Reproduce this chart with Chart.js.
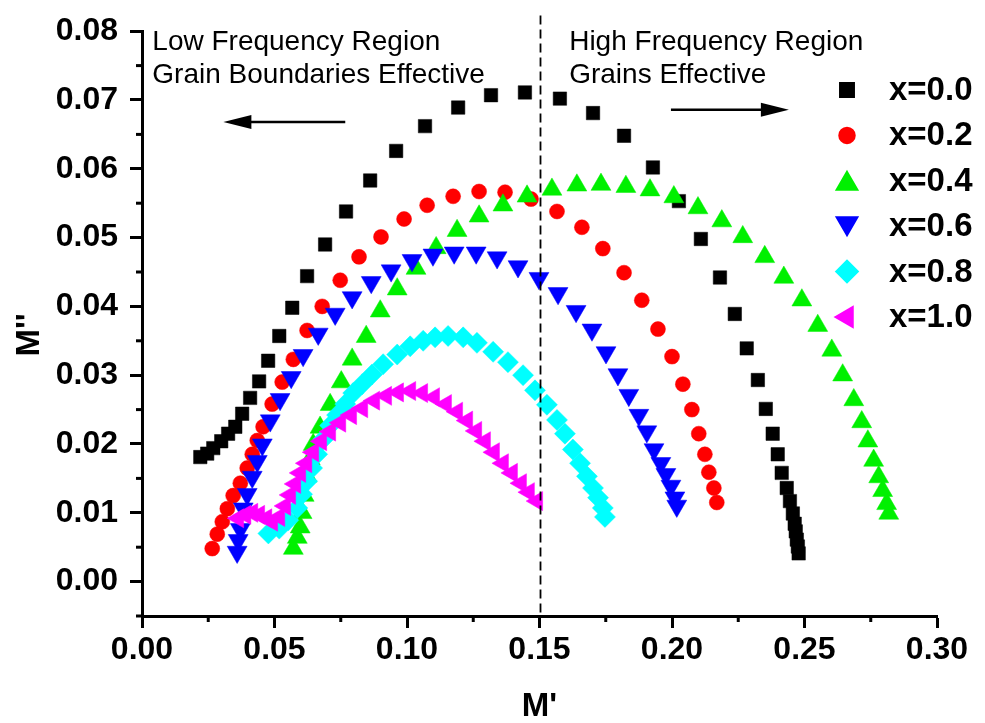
<!DOCTYPE html>
<html>
<head>
<meta charset="utf-8">
<script src="https://cdn.jsdelivr.net/npm/chart.js"></script>
<style>
  html, body { margin: 0; padding: 0; background: #fff; }
  #wrap { width: 985px; height: 723px; position: relative; }
</style>
</head>
<body>
<div id="wrap"><canvas id="chart"></canvas></div>
<script>
const FONT = '"Liberation Sans", Arial, sans-serif';

// series names
const seriesNames = ["x=0.0", "x=0.2", "x=0.4", "x=0.6", "x=0.8", "x=1.0"];

// M' / M'', one pair of arrays per series
const mRe00 = [0.0220,0.0246,0.0269,0.0299,0.0325,0.0352,0.0378,0.0408,0.0442,0.0476,0.0518,0.0567,0.0623,0.0691,0.0770,0.0861,0.0959,0.1068,0.1193,0.1317,0.1445,0.1577,0.1702,0.1819,0.1928,0.2026,0.2109,0.2181,0.2237,0.2282,0.2324,0.2354,0.2380,0.2399,0.2414,0.2433,0.2445,0.2456,0.2463,0.2467,0.2471,0.2475,0.2478];
const mIm00 = [0.0181,0.0186,0.0194,0.0204,0.0215,0.0225,0.0244,0.0267,0.0291,0.0321,0.0357,0.0398,0.0444,0.0490,0.0538,0.0583,0.0626,0.0662,0.0689,0.0707,0.0711,0.0702,0.0681,0.0648,0.0602,0.0553,0.0498,0.0442,0.0389,0.0339,0.0293,0.0251,0.0215,0.0185,0.0158,0.0136,0.0117,0.0099,0.0084,0.0073,0.0061,0.0051,0.0041];

const mRe02 = [0.0265,0.0284,0.0303,0.0322,0.0344,0.0371,0.0397,0.0416,0.0435,0.0457,0.0491,0.0529,0.0571,0.0623,0.0680,0.0748,0.0819,0.0902,0.0989,0.1076,0.1174,0.1272,0.1370,0.1468,0.1566,0.1660,0.1739,0.1819,0.1886,0.1947,0.2000,0.2041,0.2075,0.2101,0.2124,0.2139,0.2158,0.2169];
const mIm02 = [0.0048,0.0069,0.0087,0.0106,0.0125,0.0143,0.0165,0.0185,0.0205,0.0225,0.0258,0.0290,0.0323,0.0365,0.0400,0.0438,0.0472,0.0501,0.0527,0.0547,0.0560,0.0567,0.0566,0.0556,0.0538,0.0515,0.0484,0.0449,0.0409,0.0367,0.0327,0.0287,0.0250,0.0215,0.0185,0.0159,0.0136,0.0115];

const mRe04 = [0.0571,0.0586,0.0597,0.0604,0.0612,0.0623,0.0635,0.0646,0.0672,0.0710,0.0752,0.0793,0.0846,0.0899,0.0963,0.1034,0.1110,0.1189,0.1272,0.1362,0.1453,0.1547,0.1641,0.1732,0.1826,0.1917,0.2007,0.2098,0.2188,0.2267,0.2350,0.2422,0.2490,0.2550,0.2603,0.2644,0.2686,0.2716,0.2739,0.2761,0.2780,0.2795,0.2810,0.2818];
const mIm04 = [0.0048,0.0064,0.0079,0.0100,0.0125,0.0153,0.0178,0.0199,0.0224,0.0257,0.0290,0.0323,0.0356,0.0393,0.0425,0.0455,0.0485,0.0510,0.0531,0.0547,0.0560,0.0570,0.0576,0.0577,0.0574,0.0569,0.0559,0.0543,0.0524,0.0501,0.0472,0.0442,0.0409,0.0372,0.0336,0.0300,0.0264,0.0232,0.0204,0.0176,0.0152,0.0132,0.0113,0.0099];

const mRe06 = [0.0359,0.0363,0.0371,0.0382,0.0397,0.0416,0.0435,0.0454,0.0484,0.0521,0.0563,0.0608,0.0665,0.0729,0.0793,0.0865,0.0940,0.1019,0.1098,0.1178,0.1261,0.1340,0.1419,0.1498,0.1570,0.1638,0.1698,0.1751,0.1796,0.1837,0.1875,0.1905,0.1932,0.1958,0.1977,0.1996,0.2011,0.2018];
const mIm06 = [0.0043,0.0060,0.0076,0.0106,0.0127,0.0152,0.0175,0.0199,0.0234,0.0265,0.0297,0.0329,0.0360,0.0389,0.0413,0.0435,0.0452,0.0467,0.0475,0.0478,0.0478,0.0471,0.0458,0.0441,0.0419,0.0393,0.0366,0.0333,0.0301,0.0271,0.0242,0.0218,0.0192,0.0172,0.0156,0.0139,0.0122,0.0110];

const mRe08 = [0.0477,0.0518,0.0552,0.0586,0.0604,0.0623,0.0642,0.0661,0.0684,0.0710,0.0736,0.0767,0.0797,0.0831,0.0868,0.0910,0.0963,0.1012,0.1061,0.1106,0.1155,0.1212,0.1264,0.1325,0.1381,0.1438,0.1483,0.1528,0.1566,0.1596,0.1626,0.1653,0.1679,0.1702,0.1721,0.1739,0.1747];
const mIm08 = [0.0070,0.0077,0.0089,0.0107,0.0127,0.0146,0.0165,0.0185,0.0207,0.0227,0.0242,0.0258,0.0274,0.0287,0.0301,0.0316,0.0330,0.0342,0.0350,0.0355,0.0357,0.0355,0.0347,0.0334,0.0319,0.0300,0.0278,0.0257,0.0235,0.0215,0.0192,0.0172,0.0153,0.0136,0.0122,0.0107,0.0094];

const mRe10 = [0.0363,0.0390,0.0416,0.0442,0.0469,0.0491,0.0518,0.0540,0.0559,0.0578,0.0597,0.0620,0.0646,0.0676,0.0710,0.0748,0.0789,0.0831,0.0876,0.0921,0.0966,0.1012,0.1057,0.1102,0.1147,0.1189,0.1227,0.1261,0.1294,0.1328,0.1362,0.1396,0.1430,0.1460,0.1491];
const mIm10 = [0.0092,0.0097,0.0100,0.0097,0.0092,0.0087,0.0094,0.0110,0.0126,0.0142,0.0158,0.0172,0.0188,0.0204,0.0218,0.0231,0.0242,0.0252,0.0263,0.0270,0.0275,0.0277,0.0274,0.0268,0.0258,0.0247,0.0234,0.0219,0.0204,0.0188,0.0172,0.0158,0.0143,0.0130,0.0117];

// tick values and labels
const xTicks = [0, 0.05, 0.10, 0.15, 0.20, 0.25, 0.30];
const xTickLabels = ["0.00", "0.05", "0.10", "0.15", "0.20", "0.25", "0.30"];
const yTicks = [0, 0.01, 0.02, 0.03, 0.04, 0.05, 0.06, 0.07, 0.08];
const yTickLabels = ["0.00", "0.01", "0.02", "0.03", "0.04", "0.05", "0.06", "0.07", "0.08"];
const xMinor = [0.025, 0.075, 0.125, 0.175, 0.225, 0.275];
const yMinor = [-0.005, 0.005, 0.015, 0.025, 0.035, 0.045, 0.055, 0.065, 0.075];

const seriesRe = [mRe00, mRe02, mRe04, mRe06, mRe08, mRe10];
const seriesIm = [mIm00, mIm02, mIm04, mIm06, mIm08, mIm10];

// marker look per series
const markers = [
  { color: "#000000", style: "rect", rotation: 0, radius: 9.5 },
  { color: "#ff0000", style: "circle", rotation: 0, radius: 7.5 },
  { color: "#00f000", style: "triangle", rotation: 0, radius: 11.5 },
  { color: "#0000ff", style: "triangle", rotation: 180, radius: 11.5 },
  { color: "#00ffff", style: "rectRot", rotation: 0, radius: 10.5 },
  { color: "#ff00ff", style: "triangle", rotation: -90, radius: 11 },
];

const datasets = seriesNames.map((name, i) => ({
  label: name,
  data: seriesRe[i].map((x, j) => ({ x: x, y: seriesIm[i][j] })),
  showLine: false,
  pointStyle: markers[i].style,
  pointRotation: markers[i].rotation,
  pointRadius: markers[i].radius,
  pointBackgroundColor: markers[i].color,
  pointBorderColor: markers[i].color,
  pointBorderWidth: 0.5,
  order: seriesNames.length - i,
}));

function arrow(ctx, x1, y, x2) {
  const dir = x2 > x1 ? 1 : -1;
  const headLen = 28, headHalf = 7;
  ctx.beginPath();
  ctx.moveTo(x1, y);
  ctx.lineTo(x2 - dir * headLen + dir * 2, y);
  ctx.lineWidth = 2.5;
  ctx.stroke();
  ctx.beginPath();
  ctx.moveTo(x2, y);
  ctx.lineTo(x2 - dir * headLen, y - headHalf);
  ctx.lineTo(x2 - dir * headLen, y + headHalf);
  ctx.closePath();
  ctx.fill();
}

const extras = {
  id: "extras",
  afterDatasetsDraw(chart) {
    const ctx = chart.ctx;
    const xs = chart.scales.x, ys = chart.scales.y;
    // dashed divider at M' = 0.15
    const px = Math.round(xs.getPixelForValue(0.15)) + 0.5;
    ctx.save();
    ctx.strokeStyle = "#000";
    ctx.lineWidth = 1.8;
    ctx.setLineDash([9, 5]);
    ctx.beginPath();
    ctx.moveTo(px, ys.getPixelForValue(0.0823));
    ctx.lineTo(px, chart.chartArea.bottom);
    ctx.stroke();
    ctx.restore();
  },
  afterDraw(chart) {
    const ctx = chart.ctx;
    const xs = chart.scales.x, ys = chart.scales.y;
    const area = chart.chartArea;
    ctx.save();
    ctx.strokeStyle = "#000";
    ctx.fillStyle = "#000";

    // minor ticks
    ctx.lineWidth = 3;
    xMinor.forEach(v => {
      const p = xs.getPixelForValue(v);
      ctx.beginPath();
      ctx.moveTo(p, area.bottom);
      ctx.lineTo(p, area.bottom + 6);
      ctx.stroke();
    });
    yMinor.forEach(v => {
      const p = ys.getPixelForValue(v);
      ctx.beginPath();
      ctx.moveTo(area.left - 6, p);
      ctx.lineTo(area.left, p);
      ctx.stroke();
    });

    // region notes
    ctx.font = "28px " + FONT;
    ctx.textAlign = "left";
    ctx.textBaseline = "alphabetic";
    const lx = xs.getPixelForValue(0.0039), rx = xs.getPixelForValue(0.1612);
    const l1 = ys.getPixelForValue(0.0773), l2 = ys.getPixelForValue(0.0724);
    ctx.fillText("Low Frequency Region", lx, l1);
    ctx.fillText("Grain Boundaries Effective", lx, l2);
    ctx.fillText("High Frequency Region", rx, l1);
    ctx.fillText("Grains Effective", rx, l2);

    // arrows
    arrow(ctx, xs.getPixelForValue(0.0767), ys.getPixelForValue(0.0668), xs.getPixelForValue(0.0307));
    arrow(ctx, xs.getPixelForValue(0.1996), ys.getPixelForValue(0.0686), xs.getPixelForValue(0.2441));

    // legend
    const legX = 847, legTop = 90, legGap = 45.4, textX = 889;
    ctx.font = "bold 33px " + FONT;
    ctx.textBaseline = "middle";
    seriesNames.forEach((name, i) => {
      const y = legTop + i * legGap;
      const m = markers[i];
      let my = y;
      if (m.style === "triangle" && m.rotation === 0) my = y + 3;
      if (m.style === "triangle" && m.rotation === 180) my = y - 3;
      ctx.fillStyle = m.color;
      ctx.strokeStyle = m.color;
      Chart.helpers.drawPoint(ctx, { pointStyle: m.style, rotation: m.rotation, radius: m.radius, borderWidth: 0.5 }, legX, my);
      ctx.fillStyle = "#000";
      ctx.fillText(name, textX, y + 1);
    });

    // y axis title
    ctx.translate(30, 335);
    ctx.rotate(-Math.PI / 2);
    ctx.textAlign = "center";
    ctx.textBaseline = "middle";
    ctx.font = "bold 33px " + FONT;
    ctx.fillText("M''", 0, 0);
    ctx.restore();
  }
};

const tickFont = { family: FONT, size: 32, weight: "bold" };

new Chart(document.getElementById("chart").getContext("2d"), {
  type: "scatter",
  data: { datasets: datasets },
  options: {
    responsive: true,
    maintainAspectRatio: false,
    animation: false,
    layout: { padding: { top: 25, right: 48, left: 0, bottom: 0 } },
    plugins: { legend: { display: false }, tooltip: { enabled: false } },
    scales: {
      x: {
        type: "linear",
        min: 0,
        max: 0.30,
        afterBuildTicks: s => { s.ticks = xTicks.map(v => ({ value: v })); },
        afterFit: s => { s.height = 107; },
        ticks: {
          callback: (v, i) => xTickLabels[i],
          font: tickFont,
          color: "#000",
          padding: 3,
          maxRotation: 0,
          autoSkip: false,
        },
        grid: { drawOnChartArea: false, drawTicks: true, tickLength: 12, tickWidth: 3, tickColor: "#000" },
        border: { display: true, width: 3, color: "#000" },
        title: {
          display: true,
          text: "M'",
          color: "#000",
          font: { family: FONT, size: 33, weight: "bold", lineHeight: 1 },
          padding: 0,
        },
      },
      y: {
        type: "linear",
        min: -0.005,
        max: 0.08,
        afterBuildTicks: s => { s.ticks = yTicks.map(v => ({ value: v })); },
        afterFit: s => { s.width = 142; },
        ticks: {
          callback: (v, i) => yTickLabels[i],
          font: tickFont,
          color: "#000",
          padding: 12,
          autoSkip: false,
        },
        grid: { drawOnChartArea: false, drawTicks: true, tickLength: 12, tickWidth: 3, tickColor: "#000" },
        border: { display: true, width: 3, color: "#000" },
      },
    },
  },
  plugins: [extras],
});
</script>
</body>
</html>
